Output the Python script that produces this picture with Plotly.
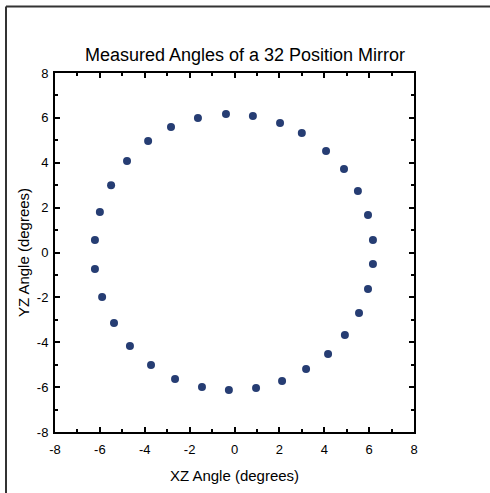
import plotly.graph_objects as go

# measured mirror positions (degrees)
xz_angle = [-0.38, 0.82, 2.03, 3.00, 4.08, 4.88, 5.50, 5.95, 6.17, 6.17, 5.95, 5.55,
            4.92, 4.17, 3.19, 2.12, 0.96, -0.25, -1.45, -2.65, -3.72, -4.66, -5.37, -5.90,
            -6.22, -6.22, -6.00, -5.50, -4.79, -3.85, -2.83, -1.63]
yz_angle = [6.17, 6.08, 5.77, 5.33, 4.52, 3.72, 2.74, 1.67, 0.56, -0.51, -1.63, -2.70,
            -3.68, -4.52, -5.19, -5.73, -6.04, -6.13, -5.99, -5.64, -5.01, -4.17, -3.14, -1.98,
            -0.74, 0.56, 1.80, 3.00, 4.08, 4.97, 5.59, 5.99]

tick_vals = [-8, -6, -4, -2, 0, 2, 4, 6, 8]
tick_text = ['-8', '-6', '-4', '-2', '0', '2', '4', '6', '8']

W, H = 490, 493
L, R, T, B = 55, 76, 73, 61
pw, ph = W - L - R, H - T - B

def px(x):
    return (x - L) / pw

def py(y):
    return (H - B - y) / ph

trace = go.Scatter(x=xz_angle, y=yz_angle, mode='markers',
                   marker=dict(color='#263d73', size=8), cliponaxis=False)

axis = dict(range=[-8, 8], tickmode='array', tickvals=tick_vals, ticktext=tick_text,
            ticks='inside', ticklen=5,
            tickwidth=1.5, tickcolor='black', showline=True, linewidth=2,
            linecolor='black', mirror='ticks', showgrid=False, zeroline=False,
            tickfont=dict(size=13, color='black'),
            minor=dict(ticks='inside', dtick=1, ticklen=3, tickwidth=1.5, tickcolor='black'))

layout = go.Layout(
    width=W, height=H,
    margin=dict(l=L, r=R, t=T, b=B),
    paper_bgcolor='white', plot_bgcolor='white',
    font=dict(family='Liberation Sans, Arial, sans-serif', color='black'),
    title=dict(text='Measured Angles of a 32 Position Mirror', x=px(234.5), xanchor='center',
               y=1 - 55 / H, yanchor='middle', font=dict(size=18)),
    xaxis=dict(axis, ticklabelstandoff=4,
               title=dict(text='XZ Angle (degrees)', font=dict(size=15), standoff=15)),
    yaxis=dict(axis, ticklabelstandoff=2,
               title=dict(text='YZ Angle (degrees)', font=dict(size=15), standoff=4)),
    showlegend=False,
    shapes=[
        dict(type='line', xref='paper', yref='paper', x0=px(6), x1=px(W + 2), y0=py(6.5), y1=py(6.5),
             line=dict(color='#333333', width=2)),
        dict(type='line', xref='paper', yref='paper', x0=px(6), x1=px(6), y0=py(6.5), y1=py(H + 2),
             line=dict(color='#333333', width=2)),
    ],
)

fig = go.Figure(data=[trace], layout=layout)
# drop the default page margin so the figure sits at the window corner
fig.write_html("out.html", config={'displayModeBar': False},
               post_script="document.body.style.margin='0';")
